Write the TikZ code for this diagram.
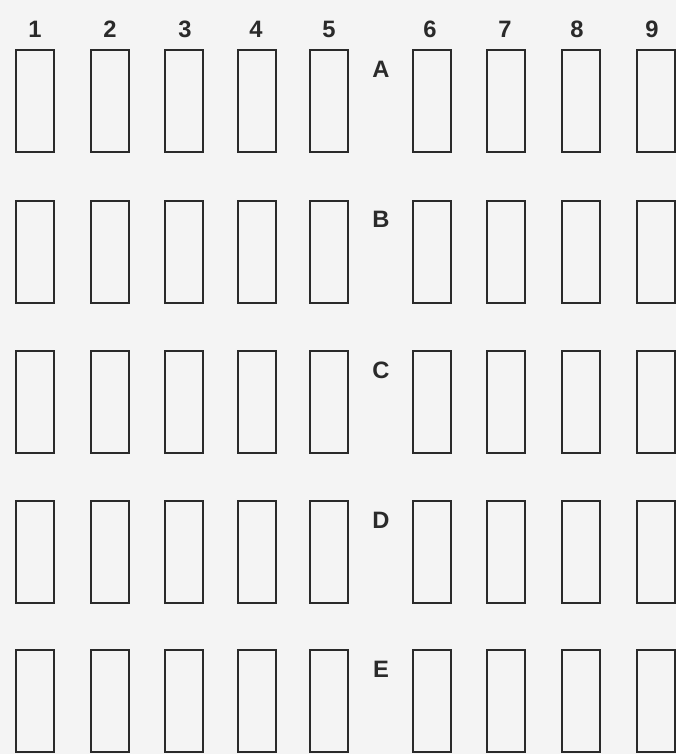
\documentclass[tikz,border=0pt]{standalone}
\usepackage{fontspec}
\setmainfont{Liberation Sans}
\definecolor{paper}{HTML}{F4F4F4}
\definecolor{ink}{HTML}{2A2A2A}
\tikzset{
  fuse/.style={draw=ink, line width=1.3pt, minimum width=0.76cm, minimum height=2.04cm, inner sep=0pt},
  tag/.style={font=\fontsize{13.5}{16}\selectfont\bfseries, text=ink, inner sep=0pt}
}
\begin{document}
\begin{tikzpicture}[x=0.02cm,y=-0.02cm]
            \fill[paper] (0,0) rectangle (676,754);
            \useasboundingbox (0,0) rectangle (676,754);
            \foreach \c/\x/\t in {1/35/35,2/110/110,3/184/185,4/257/256,5/329/329,6/432/430,7/506/505,8/581/577,9/656/652} {
                \node[tag] (n\c) at (\t,29) {\c};
                \foreach \r/\y in {A/101,B/252,C/402,D/552,E/701}
                    \node[fuse] (f\r\c) at (\x,\y) {};
            }
            \foreach \r/\y in {A/69,B/219,C/370,D/520,E/669}
                \node[tag] (l\r) at (381,\y) {\r};
        \end{tikzpicture}
\end{document}
